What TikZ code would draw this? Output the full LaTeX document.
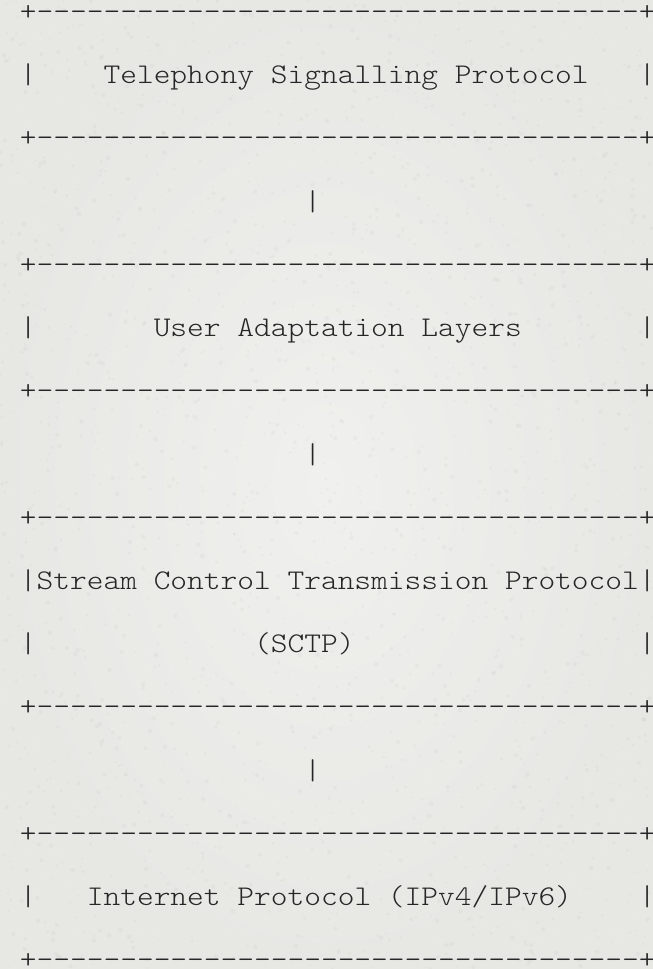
\documentclass[tikz,border=0pt]{standalone}
\usepackage{fontspec}
\setmonofont{Latin Modern Mono Light}
\usepackage{graphicx}
\definecolor{paper}{HTML}{EEEEEB}
\definecolor{paperhi}{HTML}{F0F0EE}
\definecolor{paperlo}{HTML}{E7E7E4}
\definecolor{ink}{HTML}{262626}
% widen the typewriter cells to the 16.73pt column pitch
\newcommand\wide[1]{\scalebox{1.118}[1]{#1}}
\newcommand\colx[1]{19.93+#1*16.73}
\newcommand\rowy[1]{20.4+#1*63.23}
\begin{document}
\begin{tikzpicture}[x=1pt,y=-1pt,
  asc/.style={anchor=base west,inner sep=0pt,outer sep=0pt,text=ink,
              font=\ttfamily\fontsize{28.5}{30}\selectfont}]
% paper background with a fine grain
\useasboundingbox (0,0) rectangle (653,969);
\fill[paper] (0,0) rectangle (653,969);
\shade[inner color=paperhi,outer color=paperlo] (0,0) rectangle (653,969);
\pgfmathsetseed{42}
\foreach \i in {1,...,2500}{
  \pgfmathsetmacro\px{rnd*653}
  \pgfmathsetmacro\py{rnd*969}
  \pgfmathsetmacro\rr{0.6+rnd*1.8}
  \fill[black,opacity=0.025] (\px,\py) circle (\rr);
}
\foreach \i in {1,...,1500}{
  \pgfmathsetmacro\px{rnd*653}
  \pgfmathsetmacro\py{rnd*969}
  \pgfmathsetmacro\rr{0.6+rnd*1.8}
  \fill[white,opacity=0.06] (\px,\py) circle (\rr);
}

% box borders
\foreach \k/\nm in {0/b0,2/b1,4/b2,6/b3,8/b4,11/b5,13/b6,15/b7}{
  \node[asc] (\nm) at ({\colx{0}},{\rowy{\k}})
    {\wide{+------------------------------------+}};
}

% side bars of the boxes
\foreach \k/\nm in {1/s1,5/s5,9/s9,10/s10,14/s14}{
  \node[asc] (\nm l) at ({\colx{0}},{\rowy{\k}}) {\wide{|}};
  \node[asc] (\nm r) at ({\colx{37}},{\rowy{\k}}) {\wide{|}};
}

% layer names
\node[asc] (tsp)  at ({\colx{5}},{\rowy{1}})  {\wide{Telephony Signalling Protocol}};
\node[asc] (ual)  at ({\colx{8}},{\rowy{5}})  {\wide{User Adaptation Layers}};
\node[asc] (sctp) at ({\colx{1}},{\rowy{9}})  {\wide{Stream Control Transmission Protocol}};
\node[asc] (abbr) at ({\colx{14}},{\rowy{10}}) {\wide{(SCTP)}};
\node[asc] (ip)   at ({\colx{4}},{\rowy{14}}) {\wide{Internet Protocol (IPv4/IPv6)}};

% links between the layers
\node[asc] (c1) at ({\colx{17}},{\rowy{3}})  {\wide{|}};
\node[asc] (c2) at ({\colx{17}},{\rowy{7}})  {\wide{|}};
\node[asc] (c3) at ({\colx{17}},{\rowy{12}}) {\wide{|}};
\end{tikzpicture}
\end{document}
